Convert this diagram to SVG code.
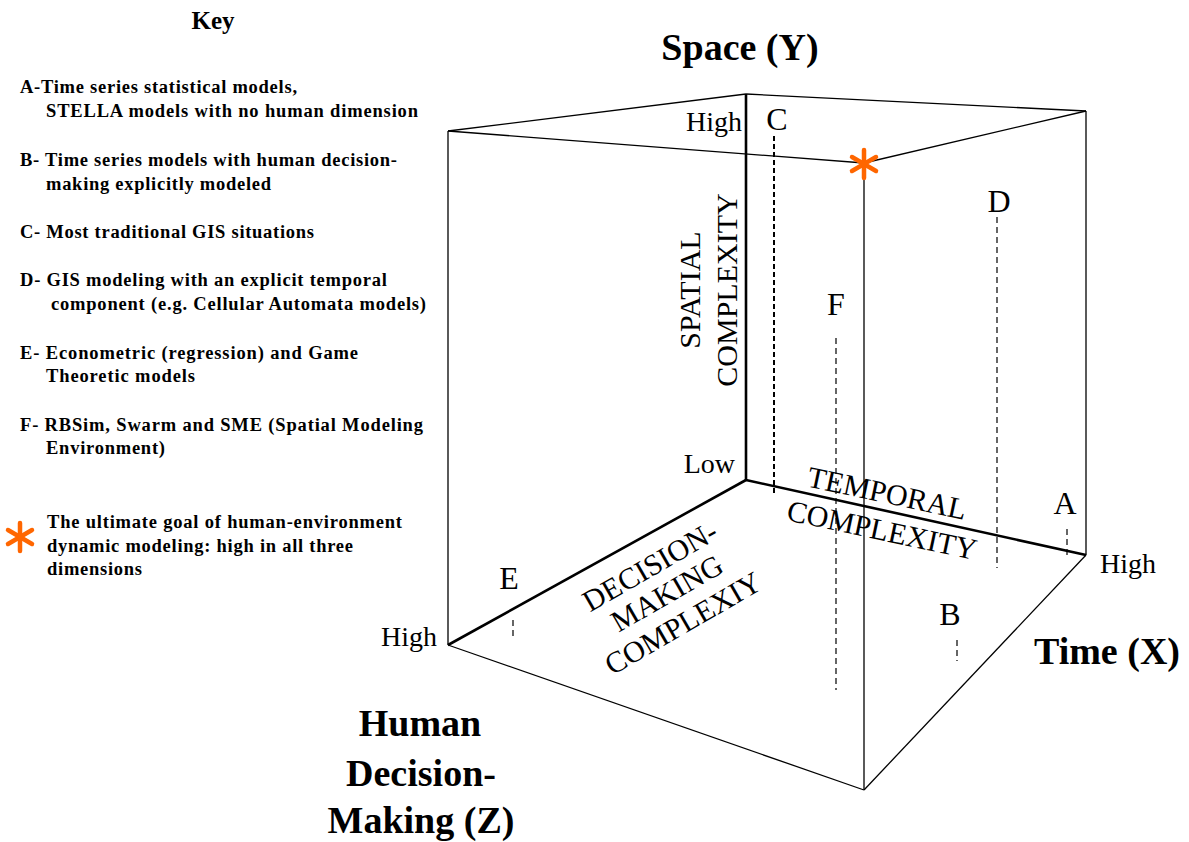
<svg xmlns="http://www.w3.org/2000/svg" width="1189" height="842" viewBox="0 0 1189 842">
<style>
.key{font-family:"Liberation Serif","Times New Roman",serif;font-weight:bold;font-size:18.5px;fill:#000}
.big{font-family:"Liberation Serif","Times New Roman",serif;font-weight:bold;font-size:38px;fill:#000}
.lbl{font-family:"Liberation Serif","Times New Roman",serif;font-size:28px;fill:#000}
.let{font-family:"Liberation Serif","Times New Roman",serif;font-size:32px;fill:#000;text-anchor:middle}
.ax{font-family:"Liberation Serif","Times New Roman",serif;font-size:30px;fill:#000;text-anchor:middle}
.thin{stroke:#000;stroke-width:1.3;fill:none}
.thick{stroke:#000;stroke-width:2.6;fill:none}
.dash{stroke:#000;stroke-width:1.2;stroke-dasharray:6 4;fill:none}
.dashC{stroke:#000;stroke-width:2;stroke-dasharray:5 3;fill:none}
.star{stroke:#FF6600;stroke-width:4.5;stroke-linecap:round;fill:none}
</style>
<defs>
<g id="ast">
<line class="star" x1="0" y1="-14" x2="0" y2="14"/>
<line class="star" x1="-12" y1="-7" x2="12" y2="7"/>
<line class="star" x1="-12" y1="7" x2="12" y2="-7"/>
</g>
</defs>
<rect width="1189" height="842" fill="#fff"/>

<g id="key">
<text x="213" y="29" class="key" style="font-size:25px" text-anchor="middle">Key</text>
<text x="20" y="93" class="key" textLength="277" lengthAdjust="spacing">A-Time series statistical models,</text>
<text x="46" y="117" class="key" textLength="372" lengthAdjust="spacing">STELLA models with no human dimension</text>
<text x="20" y="166" class="key" textLength="377" lengthAdjust="spacing">B- Time series models with human decision-</text>
<text x="46" y="190" class="key" textLength="225" lengthAdjust="spacing">making explicitly modeled</text>
<text x="20" y="238" class="key" textLength="294" lengthAdjust="spacing">C- Most traditional GIS situations</text>
<text x="20" y="286" class="key" textLength="367" lengthAdjust="spacing">D- GIS modeling with an explicit temporal</text>
<text x="51" y="310" class="key" textLength="375" lengthAdjust="spacing">component (e.g. Cellular Automata models)</text>
<text x="20" y="359" class="key" textLength="338" lengthAdjust="spacing">E- Econometric (regression) and Game</text>
<text x="46" y="382" class="key" textLength="149" lengthAdjust="spacing">Theoretic models</text>
<text x="20" y="431" class="key" textLength="403" lengthAdjust="spacing">F- RBSim, Swarm and SME (Spatial Modeling</text>
<text x="46" y="454" class="key" textLength="119" lengthAdjust="spacing">Environment)</text>
<use href="#ast" x="20" y="537"/>
<text x="47" y="528" class="key" textLength="355" lengthAdjust="spacing">The ultimate goal of human-environment</text>
<text x="47" y="552" class="key" textLength="306" lengthAdjust="spacing">dynamic modeling: high in all three</text>
<text x="47" y="575" class="key" textLength="95" lengthAdjust="spacing">dimensions</text>
</g>

<g id="connectors">
<line class="thin" x1="448" y1="131" x2="746" y2="94"/>
<line class="thin" x1="746" y1="94" x2="1086" y2="111"/>
<line class="thin" x1="1086" y1="111" x2="864" y2="163"/>
<line class="thin" x1="448" y1="131" x2="864" y2="163"/>
<line class="thin" x1="448" y1="131" x2="448" y2="645"/>
<line class="thin" x1="1086" y1="111" x2="1086" y2="555"/>
<line class="thin" x1="864" y1="170" x2="864" y2="790"/>
<line class="thin" x1="448" y1="645" x2="864" y2="790"/>
<line class="thin" x1="864" y1="790" x2="1086" y2="555"/>
<line class="thick" x1="746" y1="94" x2="746" y2="480"/>
<line class="thick" x1="746" y1="480" x2="1086" y2="555"/>
<line class="thick" x1="746" y1="480" x2="448" y2="645"/>
<line class="dashC" x1="774" y1="136" x2="774" y2="496"/>
<line class="dash" x1="836" y1="338" x2="836" y2="690"/>
<line class="dash" x1="997" y1="217" x2="997" y2="568"/>
<line class="dash" x1="1067" y1="529" x2="1067" y2="559"/>
<line class="dash" x1="957" y1="640" x2="957" y2="661"/>
<line class="dash" x1="513" y1="620" x2="513" y2="640"/>
</g>

<g id="goal-star">
<use href="#ast" x="864" y="164"/>
</g>

<g id="axis-labels">
<text x="740" y="60" class="big" text-anchor="middle">Space (Y)</text>
<text x="1107" y="664" class="big" text-anchor="middle">Time (X)</text>
<text x="420" y="736" class="big" text-anchor="middle">Human</text>
<text x="421" y="786" class="big" text-anchor="middle">Decision-</text>
<text x="421" y="833" class="big" text-anchor="middle">Making (Z)</text>
<text x="742" y="131" class="lbl" text-anchor="end">High</text>
<text x="735" y="473" class="lbl" text-anchor="end">Low</text>
<text x="1100" y="573" class="lbl">High</text>
<text x="437" y="646" class="lbl" text-anchor="end">High</text>
<text transform="translate(700,290) rotate(-90)" class="ax">SPATIAL</text>
<text transform="translate(737,290) rotate(-90)" class="ax">COMPLEXITY</text>
<text transform="translate(885,503) rotate(12)" class="ax">TEMPORAL</text>
<text transform="translate(880,540) rotate(12)" class="ax">COMPLEXITY</text>
<text transform="translate(655,575) rotate(-30)" class="ax">DECISION-</text>
<text transform="translate(672,602) rotate(-30)" class="ax">MAKING</text>
<text transform="translate(688,632) rotate(-30)" class="ax">COMPLEXIY</text>
</g>

<g id="points">
<text x="777" y="130" class="let">C</text>
<text x="999" y="212" class="let">D</text>
<text x="836" y="315" class="let">F</text>
<text x="1065" y="514" class="let">A</text>
<text x="950" y="625" class="let">B</text>
<text x="509" y="589" class="let">E</text>
</g>
</svg>
